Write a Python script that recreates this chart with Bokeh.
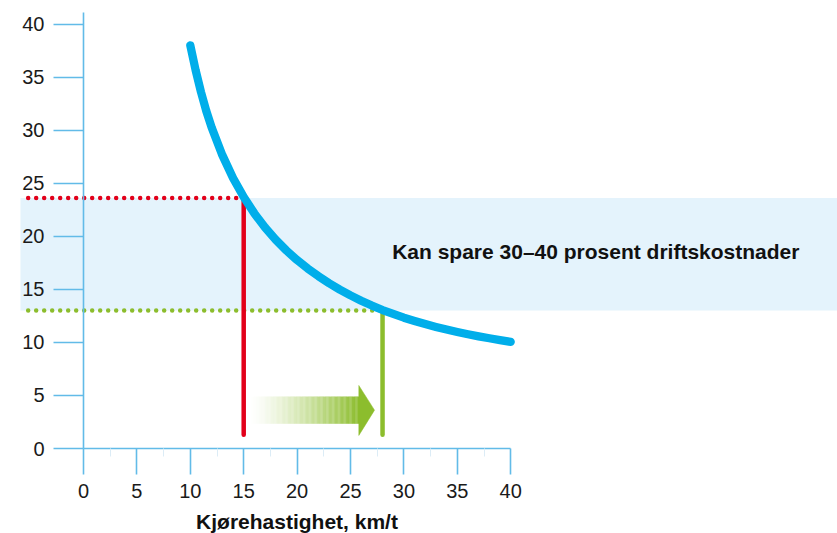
import numpy as np
from bokeh.plotting import figure
from bokeh.models import Range1d, LinearAxis, FixedTicker, ColumnDataSource
from bokeh.embed import file_html
from bokeh.resources import INLINE
from bokeh.core.properties import value

# ---- data ----
speed = [10, 10.5, 11, 11.5, 12, 13, 14, 15, 16, 17, 18, 19, 20, 21, 22, 23, 24, 25, 26, 27,
         28, 29, 30, 31, 32, 33, 34, 35, 36, 37, 38, 39, 40]
cost = [38.0, 35.65, 33.6, 31.8, 30.25, 27.65, 25.5, 23.7, 22.16, 20.83, 19.67, 18.66, 17.76,
        16.96, 16.24, 15.58, 14.98, 14.43, 13.93, 13.47, 13.05, 12.68, 12.33, 12.02, 11.73,
        11.46, 11.21, 10.98, 10.77, 10.57, 10.39, 10.22, 10.05]
x_ticks = [0, 5, 10, 15, 20, 25, 30, 35, 40]
x_minor = [2.5, 7.5, 12.5, 17.5, 22.5, 27.5, 32.5, 37.5]
y_ticks = [0, 5, 10, 15, 20, 25, 30, 35, 40]
high_speed, high_cost = 15, 23.6
low_speed, low_cost = 28, 13.0
band_text = "Kan spare 30–40 prosent driftskostnader"
x_title = "Kjørehastighet, km/t"

# ---- styling ----
AXIS = "#62bbe8"
CURVE = "#00aeea"
RED = "#e2001a"
GREEN = "#8cbd2d"
BAND = "#e4f3fc"
FONT = "Liberation Sans"

PX_X = 10.68
PX_Y = 10.61
x0 = -83 / PX_X
x1 = x0 + 837 / PX_X
y0 = -(533 - 448) / PX_Y
y1 = 448 / PX_Y

p = figure(width=837, height=533, x_range=Range1d(x0, x1), y_range=Range1d(y0, y1),
           output_backend="svg", toolbar_location=None, x_axis_type=None, y_axis_type=None,
           min_border=0)
p.outline_line_color = None
p.background_fill_color = "white"
p.border_fill_color = "white"

# band
p.quad(left=[-5.9], right=[x1 + 1], bottom=[low_cost], top=[high_cost],
       fill_color=BAND, line_color=None)

# dotted guide lines
dot_start = -5.18
p.line(x=[dot_start, high_speed], y=[high_cost, high_cost], line_color=RED, line_width=4.5,
       line_dash="0 8", line_cap="round")
p.line(x=[dot_start, low_speed], y=[low_cost, low_cost], line_color=GREEN, line_width=4.5,
       line_dash="0 8", line_cap="round")

# vertical lines
p.line(x=[high_speed, high_speed], y=[1.3, high_cost], line_color=RED, line_width=4.5,
       line_cap="round")
p.line(x=[low_speed, low_speed], y=[1.3, low_cost], line_color=GREEN, line_width=4.5,
       line_cap="round")

# arrow with gradient body
body_left, head_base, tip = 15.6, 25.78, 27.25
body_bot, body_top = 2.33, 4.90
head_bot, head_top = 1.23, 5.94
mid = (body_bot + body_top) / 2
n = 90
edges = np.linspace(body_left, head_base, n + 1)
g = np.array([0x8c, 0xbd, 0x2d])
cols = []
for i in range(n):
    t = ((i + 0.5) / n) ** 1.3
    c = (255 * (1 - t) + g * t).round().astype(int)
    cols.append("#%02x%02x%02x" % tuple(c))
p.quad(left=edges[:-1], right=edges[1:] + 0.02, bottom=body_bot, top=body_top,
       fill_color=cols, line_color=None)
p.patch(x=[head_base, tip, head_base], y=[head_top, mid, head_bot], fill_color=GREEN,
        line_color=GREEN, line_width=0.5)

# curve
src = ColumnDataSource(dict(x=speed, y=cost))
p.line("x", "y", source=src, line_color=CURVE, line_width=8.3, line_cap="round",
       line_join="round")

# text
p.text(x=[28.9], y=[18.6], text=[band_text], text_font=value(FONT), text_font_style="bold",
       text_font_size="21px", text_baseline="alphabetic", text_align="left",
       text_color="#111111")

# axes
xaxis = LinearAxis(fixed_location=0, bounds=(0, 40),
                   ticker=FixedTicker(ticks=x_ticks, minor_ticks=x_minor),
                   axis_label=x_title)
yaxis = LinearAxis(fixed_location=0, bounds=(0, 41.1), ticker=FixedTicker(ticks=y_ticks))
for ax in (xaxis, yaxis):
    ax.axis_line_color = AXIS
    ax.axis_line_width = 1.6
    ax.major_tick_line_color = AXIS
    ax.major_tick_line_width = 1.6
    ax.major_tick_in = 0
    ax.minor_tick_in = 0
    ax.major_label_text_font = FONT
    ax.major_label_text_font_size = "20px"
    ax.major_label_text_color = "#1a1a1a"
    ax.major_label_standoff = 9
xaxis.major_tick_out = 26
xaxis.minor_tick_out = 8
xaxis.minor_tick_line_color = "#dcecf6"
xaxis.minor_tick_line_width = 1
xaxis.axis_label_text_font = FONT
xaxis.axis_label_text_font_style = "bold"
xaxis.axis_label_text_font_size = "21px"
xaxis.axis_label_text_color = "#111111"
xaxis.axis_label_standoff = 9
yaxis.major_tick_out = 30
yaxis.minor_tick_out = 0
yaxis.minor_tick_line_color = None
p.add_layout(xaxis, "below")
p.add_layout(yaxis, "left")

open("out.html", "w").write(file_html(p, INLINE))
